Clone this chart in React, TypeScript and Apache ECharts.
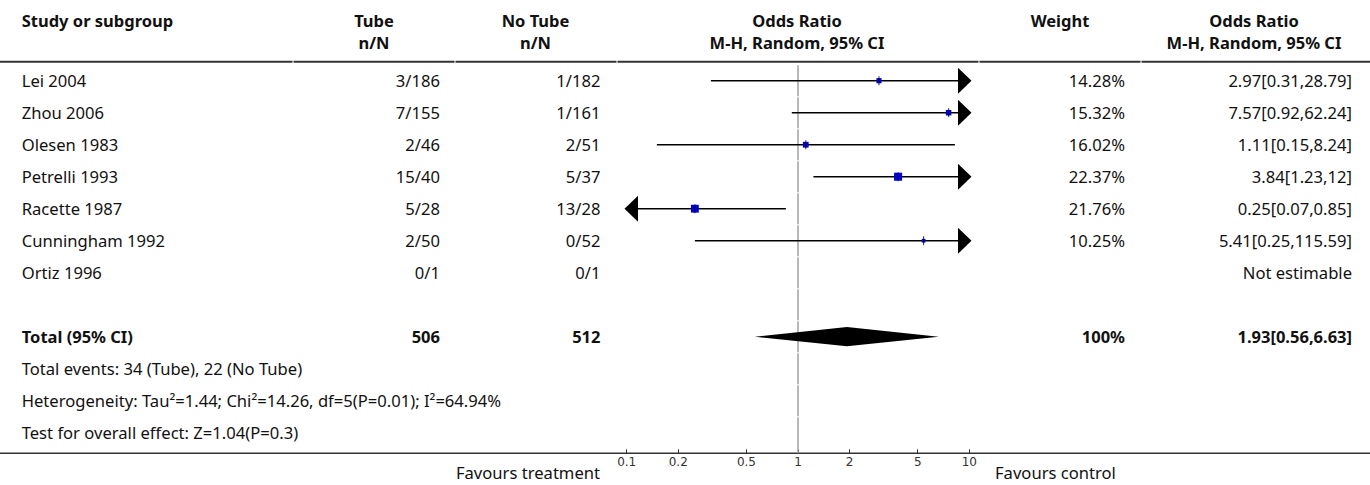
import React, { useEffect, useRef } from "react";
import * as echarts from "echarts";

// ---- data ----
const studies = ["Lei 2004", "Zhou 2006", "Olesen 1983", "Petrelli 1993", "Racette 1987", "Cunningham 1992", "Ortiz 1996"];
const tubeEvents = ["3/186", "7/155", "2/46", "15/40", "5/28", "2/50", "0/1"];
const noTubeEvents = ["1/182", "1/161", "2/51", "5/37", "13/28", "0/52", "0/1"];
const oddsRatios: (number | null)[] = [2.97, 7.57, 1.11, 3.84, 0.25, 5.41, null];
const ciLower: (number | null)[] = [0.31, 0.92, 0.15, 1.23, 0.07, 0.25, null];
const ciUpper: (number | null)[] = [28.79, 62.24, 8.24, 12, 0.85, 115.59, null];
const weights: (number | null)[] = [14.28, 15.32, 16.02, 22.37, 21.76, 10.25, null];
const totalTube = 506;
const totalNoTube = 512;
const totalWeight = 100;
const totalOR = 1.93;
const totalLower = 0.56;
const totalUpper = 6.63;
const summaryLines = [
  "Total events: 34 (Tube), 22 (No Tube)",
  "Heterogeneity: Tau²=1.44; Chi²=14.26, df=5(P=0.01); I²=64.94%",
  "Test for overall effect: Z=1.04(P=0.3)",
];
const tickLabels = [0.1, 0.2, 0.5, 1, 2, 5, 10];

// ---- layout / style constants ----
const FONT = '"Noto Sans", sans-serif';
const FS = 16.6;
const FSB = 16.5;
const TXT = "#111";
const W = 1370;
const H = 485;
const TOTAL_ROW = studies.length + 1;
const N_ROWS = studies.length + 2 + summaryLines.length;
const Y_MIN = -0.594;
const Y_MAX = 11.644;
const colName = 21.7;
const colTube = 440;
const colNoTube = 600.5;
const colWeight = 1125;
const colOR = 1352;
const log = (v: number) => Math.log10(v);

function fmtCI(o: number, l: number, u: number) {
  return `${o}[${l},${u}]`;
}

export default function App() {
  const ref = useRef<HTMLDivElement>(null);
  useEffect(() => {
    if (!ref.current) return;
    const chart = echarts.init(ref.current, null, { renderer: "svg" });

    const forestData: number[][] = [];
    oddsRatios.forEach((o, i) => {
      if (o == null) return;
      forestData.push([i, log(o), log(ciLower[i] as number), log(ciUpper[i] as number), weights[i] as number]);
    });

    const refRows: number[][] = [];
    for (let r = 0; r < N_ROWS; r++) refRows.push([0, r]);

    const tableRows: number[][] = [];
    for (let r = 0; r < N_ROWS; r++) tableRows.push([0, r]);

    const txt = (text: string, x: number, y: number, align: string, bold = false) => ({
      type: "text",
      x,
      y,
      style: {
        text,
        fill: TXT,
        fontSize: bold ? FSB : FS,
        fontFamily: FONT,
        fontWeight: bold ? "bold" : "normal",
        align,
        verticalAlign: "middle",
      },
    });

    const colBounds = [0, 293, 455, 617, 979, 1141, W];
    const headerLines = [];
    for (let i = 0; i < colBounds.length - 1; i++) {
      headerLines.push({
        type: "line",
        shape: { x1: colBounds[i] + (i === 0 ? 0 : 0.5), y1: 61.7, x2: colBounds[i + 1] - (i === colBounds.length - 2 ? 0 : 0.5), y2: 61.7 },
        style: { stroke: "#333", lineWidth: 2 },
      });
    }

    const option: any = {
      animation: false,
      grid: [
        { left: 626.7, right: W - 969.3, top: 61.7, bottom: H - 453.3 },
        { left: 0, right: 0, top: 61.7, bottom: H - 453.3 },
      ],
      xAxis: [
        {
          type: "value",
          gridIndex: 0,
          position: "bottom",
          min: -1,
          max: 1,
          axisLine: { show: false, onZero: false },
          splitLine: { show: false },
          axisTick: {
            show: true,
            inside: true,
            length: 4,
            lineStyle: { color: "#333", width: 1 },
            customValues: tickLabels.map(log),
          },
          axisLabel: {
            show: true,
            margin: 3,
            color: "#333",
            fontSize: 12,
            fontFamily: "DejaVu Sans",
            customValues: tickLabels.map(log),
            formatter: (v: number) => String(Number(Math.pow(10, v).toPrecision(2))),
          },
        },
        { type: "value", gridIndex: 1, min: 0, max: W, show: false },
      ],
      yAxis: [
        { type: "value", gridIndex: 0, inverse: true, min: Y_MIN, max: Y_MAX, show: false },
        { type: "value", gridIndex: 1, inverse: true, min: Y_MIN, max: Y_MAX, show: false },
      ],
      series: [
        {
          type: "custom",
          name: "reference",
          xAxisIndex: 0,
          yAxisIndex: 0,
          clip: false,
          silent: true,
          data: refRows,
          renderItem: (params: any, api: any) => {
            const r = api.value(1);
            const top = api.coord([0, r - 0.5]);
            const bottom = r === N_ROWS - 1 ? api.coord([0, Y_MAX]) : api.coord([0, r + 0.5]);
            return {
              type: "line",
              shape: { x1: top[0], y1: top[1] + 0.5, x2: bottom[0], y2: bottom[1] - (r === N_ROWS - 1 ? 0 : 0.5) },
              style: { stroke: "#a0a0a0", lineWidth: 1.5 },
            };
          },
        },
        {
          type: "custom",
          name: "studies",
          xAxisIndex: 0,
          yAxisIndex: 0,
          clip: false,
          silent: true,
          data: forestData,
          renderItem: (params: any, api: any) => {
            const row = api.value(0);
            const o = api.value(1);
            const lo = api.value(2);
            const hi = api.value(3);
            const w = api.value(4);
            const pLeft = api.coord([-1, row]);
            const pRight = api.coord([1, row]);
            const y = pLeft[1];
            const children: any[] = [];
            const arrowLen = 13.5;
            const arrowHalf = 13;
            const tipOff = 2.2;
            let x1 = api.coord([Math.max(lo, -1), row])[0];
            let x2 = api.coord([Math.min(hi, 1), row])[0];
            if (lo < -1) {
              const tip = pLeft[0] - tipOff;
              x1 = tip + arrowLen;
              children.push({
                type: "polygon",
                shape: { points: [[tip, y], [tip + arrowLen, y - arrowHalf], [tip + arrowLen, y + arrowHalf]] },
                style: { fill: "#000" },
              });
            }
            if (hi > 1) {
              const tip = pRight[0] + tipOff;
              x2 = tip - arrowLen;
              children.push({
                type: "polygon",
                shape: { points: [[tip, y], [tip - arrowLen, y - arrowHalf], [tip - arrowLen, y + arrowHalf]] },
                style: { fill: "#000" },
              });
            }
            children.unshift({
              type: "line",
              shape: { x1, y1: y, x2, y2: y },
              style: { stroke: "#000", lineWidth: 1.6 },
            });
            const pc = api.coord([o, row]);
            const s = Math.max(3, w * 0.36);
            children.push({
              type: "rect",
              shape: { x: pc[0] - s / 2, y: pc[1] - s / 2, width: s, height: s },
              style: { fill: "#0000dd" },
            });
            children.push({
              type: "line",
              shape: { x1: pc[0], y1: pc[1] - 4.5, x2: pc[0], y2: pc[1] + 4.5 },
              style: { stroke: "#000", lineWidth: 1.2, opacity: 0.7 },
            });
            return { type: "group", children };
          },
        },
        {
          type: "custom",
          name: "total",
          xAxisIndex: 0,
          yAxisIndex: 0,
          clip: false,
          silent: true,
          data: [[TOTAL_ROW, log(totalOR), log(totalLower), log(totalUpper)]],
          renderItem: (params: any, api: any) => {
            const row = api.value(0);
            const c = api.coord([api.value(1), row]);
            const l = api.coord([api.value(2), row]);
            const u = api.coord([api.value(3), row]);
            const hh = 9.6;
            return {
              type: "polygon",
              shape: { points: [[l[0], c[1]], [c[0], c[1] - hh], [u[0], c[1]], [c[0], c[1] + hh]] },
              style: { fill: "#000" },
            };
          },
        },
        {
          type: "custom",
          name: "table",
          xAxisIndex: 1,
          yAxisIndex: 1,
          clip: false,
          silent: true,
          data: tableRows,
          renderItem: (params: any, api: any) => {
            const r = api.value(1);
            const y = api.coord([0, r])[1];
            const X = (x: number) => api.coord([x, r])[0];
            const children: any[] = [];
            if (r < studies.length) {
              children.push(txt(studies[r], X(colName), y, "left"));
              children.push(txt(tubeEvents[r], X(colTube), y, "right"));
              children.push(txt(noTubeEvents[r], X(colNoTube), y, "right"));
              const w = weights[r];
              const o = oddsRatios[r];
              if (w != null) children.push(txt(`${w.toFixed(2)}%`, X(colWeight), y, "right"));
              children.push(
                txt(o == null ? "Not estimable" : fmtCI(o, ciLower[r] as number, ciUpper[r] as number), X(colOR), y, "right")
              );
            } else if (r === TOTAL_ROW) {
              children.push(txt("Total (95% CI)", X(colName), y, "left", true));
              children.push(txt(String(totalTube), X(colTube), y, "right", true));
              children.push(txt(String(totalNoTube), X(colNoTube), y, "right", true));
              children.push(txt(`${totalWeight}%`, X(colWeight), y, "right", true));
              children.push(txt(fmtCI(totalOR, totalLower, totalUpper), X(colOR), y, "right", true));
            } else if (r > TOTAL_ROW) {
              children.push(txt(summaryLines[r - TOTAL_ROW - 1], X(colName), y, "left"));
            }
            return { type: "group", children };
          },
        },
      ],
      graphic: [
        txt("Study or subgroup", 21.7, 20, "left", true),
        txt("Tube", 374, 20, "center", true),
        txt("n/N", 374, 42, "center", true),
        txt("No Tube", 535.5, 20, "center", true),
        txt("n/N", 535.5, 42, "center", true),
        txt("Odds Ratio", 797, 20, "center", true),
        txt("M-H, Random, 95% CI", 797, 42, "center", true),
        txt("Weight", 1060, 20, "center", true),
        txt("Odds Ratio", 1254, 20, "center", true),
        txt("M-H, Random, 95% CI", 1254, 42, "center", true),
        ...headerLines,
        {
          type: "line",
          shape: { x1: 0, y1: 453.3, x2: W, y2: 453.3 },
          style: { stroke: "#333", lineWidth: 1.5 },
        },
        txt("Favours treatment", 600, 472, "right"),
        txt("Favours control", 995, 472, "left"),
      ],
    };
    chart.setOption(option);
    return () => chart.dispose();
  }, []);
  return <div ref={ref} style={{ position: "absolute", left: 0, top: 0, width: W, height: H }} />;
}
